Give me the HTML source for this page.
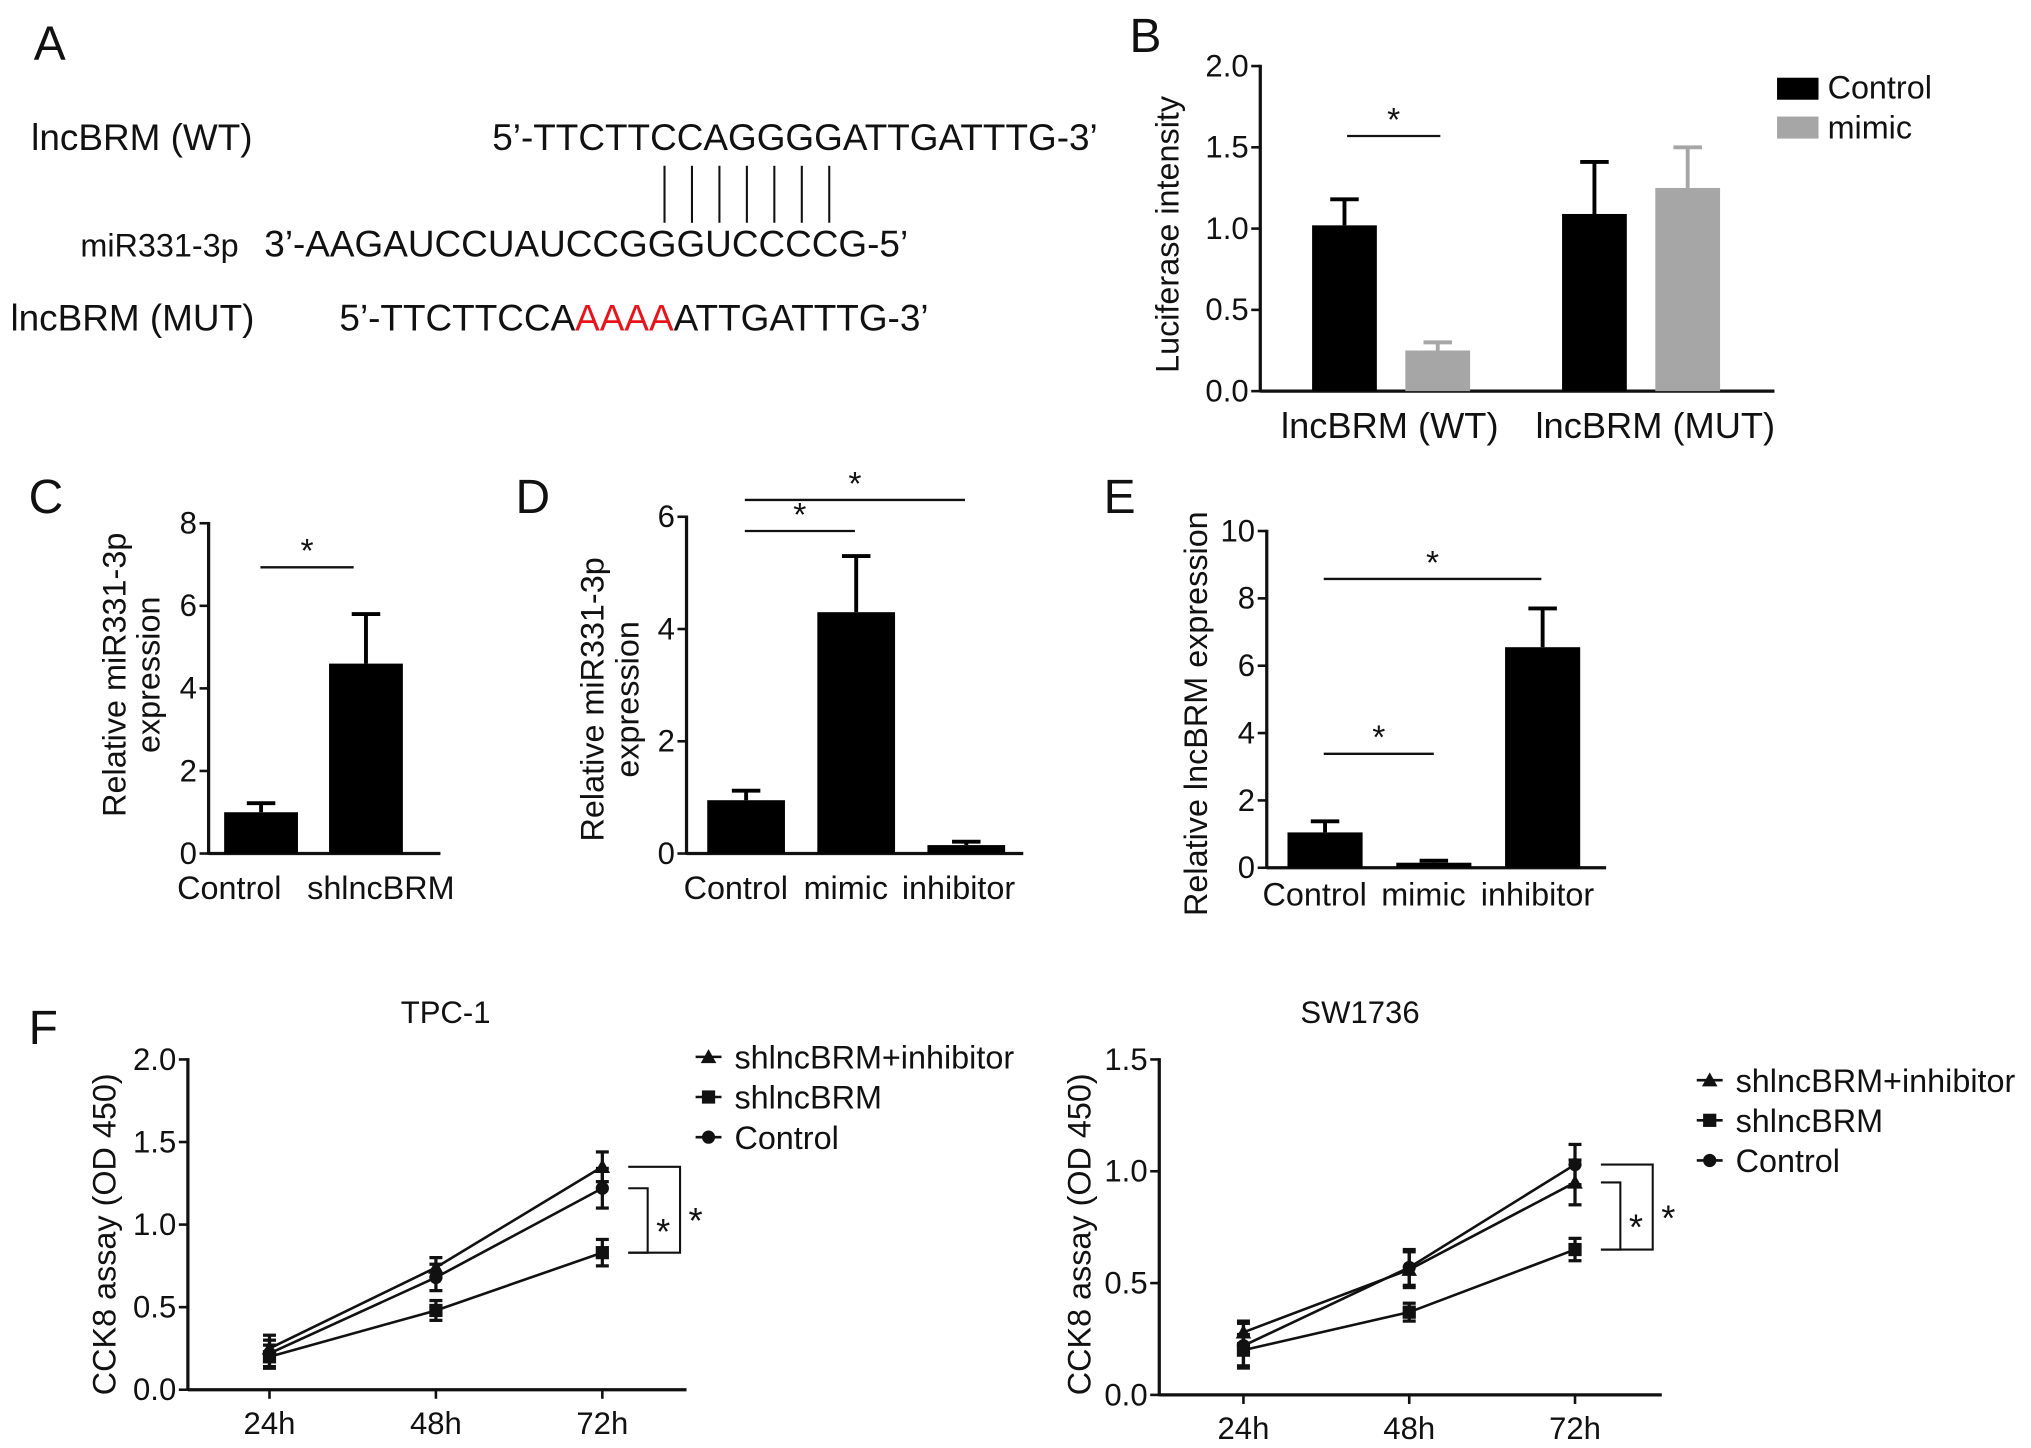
<!DOCTYPE html>
<html><head><meta charset="utf-8"><style>html,body{margin:0;padding:0;background:#fff}svg{display:block}text{font-family:"Liberation Sans",Arial,sans-serif;fill:#111}</style></head>
<body>
<svg id="fig" xmlns="http://www.w3.org/2000/svg" width="2031" height="1448" viewBox="0 0 1568 1118">
<g>
<text x="26" y="46" font-size="37">A</text>
<text x="24" y="116" font-size="28.5">lncBRM (WT)</text>
<text x="380" y="116" font-size="28.5">5’-TTCTTCCAGGGGATTGATTTG-3’</text>
<text x="62" y="198" font-size="25">miR331-3p</text>
<text x="204" y="198" font-size="28.5">3’-AAGAUCCUAUCCGGGUCCCCG-5’</text>
<text x="8" y="255" font-size="28.5">lncBRM (MUT)</text>
<text x="262" y="255" font-size="28.5">5’-TTCTTCCA<tspan fill="#e8141b" style="fill:#e8141b">AAAA</tspan>ATTGATTTG-3’</text>
<g id="pairs" stroke="#111" stroke-width="1.6"></g>
</g>
<g id="charts"></g>
</svg>
<script>
// Panel B data
const bCats=["lncBRM (WT)","lncBRM (MUT)"];
const bControl=[1.02,1.09], bControlErr=[0.16,0.32];
const bMimic=[0.25,1.25], bMimicErr=[0.05,0.25];
const bTicks=["0.0","0.5","1.0","1.5","2.0"];
// Panel C
const cCats=["Control","shlncBRM"], cVals=[1.0,4.6], cErr=[0.22,1.2], cTicks=[0,2,4,6,8];
// Panel D
const dCats=["Control","mimic","inhibitor"], dVals=[0.95,4.3,0.15], dErr=[0.17,1.0,0.06], dTicks=[0,2,4,6];
// Panel E
const eCats=["Control","mimic","inhibitor"], eVals=[1.05,0.15,6.55], eErr=[0.33,0.06,1.15], eTicks=[0,2,4,6,8,10];
// Panel F
const fTimes=["24h","48h","72h"];
const f1Tri=[0.25,0.74,1.35], f1Sq=[0.2,0.48,0.83], f1Ci=[0.22,0.68,1.22];
const f1TriE=[0.08,0.06,0.09], f1SqE=[0.07,0.06,0.08], f1CiE=[0.08,0.08,0.12];
const f2Tri=[0.28,0.56,0.95], f2Sq=[0.2,0.37,0.65], f2Ci=[0.22,0.57,1.03];
const f2TriE=[0.05,0.08,0.1], f2SqE=[0.07,0.04,0.05], f2CiE=[0.1,0.08,0.09];
const f1Ticks=["0.0","0.5","1.0","1.5","2.0"], f2Ticks=["0.0","0.5","1.0","1.5"];

const NS="http://www.w3.org/2000/svg";
const root=document.getElementById('charts');
function mk(tag,attrs,parent,txt){const e=document.createElementNS(NS,tag);for(const k in attrs)e.setAttribute(k,attrs[k]);if(txt!==undefined)e.textContent=txt;(parent||root).appendChild(e);return e;}
const pg=document.getElementById('pairs');
for(let i=0;i<7;i++){const l=mk('line',{x1:513+i*21.2,x2:513+i*21.2,y1:128,y2:172},pg);

}

function axisY(g,x,y0,y1,vmax,ticks,fs){
  const sc=v=>y0-(v/vmax)*(y0-y1);
  const ax=mk('line',{x1:x,x2:x,y1:y0+1,y2:y1-1,stroke:'#111','stroke-width':2.5},g);
  
  
  ticks.forEach(t=>{const v=parseFloat(t);const y=sc(v);
    mk('line',{x1:x-7,x2:x,y1:y,y2:y,stroke:'#111','stroke-width':2},g);
    const tx=mk('text',{x:x-9,y:y+8,'font-size':fs||24,'text-anchor':'end'},g,String(t));
    
    });
  return sc;
}
function xAxis(g,x0,x1,y){const a=mk('line',{x1:x0,x2:x1,y1:y,y2:y,stroke:'#111','stroke-width':2.5},g);
  
  }
function ytitle(g,x,y,lines,fs,gap){lines.forEach((s,i)=>{const t=mk('text',{x:0,y:0,'font-size':fs||25,'text-anchor':'middle',transform:`translate(${x+i*(gap||27)},${y}) rotate(-90)`},g,s);
  
  });}
function bar(g,x,w,sc,v,e,fill,name){
  const r=mk('rect',{x:x,y:sc(v),width:w,height:sc(0)-sc(v),fill:fill},g);
  
  
  const cx=x+w/2, ty=sc(v+e);
  mk('line',{x1:cx,x2:cx,y1:sc(v),y2:ty,stroke:fill,'stroke-width':3},g);
  mk('line',{x1:cx-11,x2:cx+11,y1:ty,y2:ty,stroke:fill,'stroke-width':3},g);
}
function sig(g,x1,x2,y){mk('line',{x1:x1,x2:x2,y1:y,y2:y,stroke:'#111','stroke-width':1.8},g);
  const s=mk('text',{x:(x1+x2)/2,y:y-4,'font-size':26,'text-anchor':'middle'},g,'*');
  
  }
function label(g,x,y,s,fs,name,anchor){const t=mk('text',{x:x,y:y,'font-size':fs,'text-anchor':anchor||'middle'},g,s);
  
  return t;}

// Panel B
{const g=mk('g',{});


label(g,872,40,'B',37,'panel-label-b','start');
const sc=axisY(g,973,302,51,2.0,bTicks,24);
xAxis(g,973,1370,302);
ytitle(g,910,181,['Luciferase intensity'],25);
const cx=[1073,1266];
bCats.forEach((c,i)=>{bar(g,cx[i]-60,50,sc,bControl[i],bControlErr[i],'#000','bar-control');
 bar(g,cx[i]+12,50,sc,bMimic[i],bMimicErr[i],'#a6a6a6','bar-mimic');
 label(g,cx[i]+(i?12:0),338,c,28,'x-tick-label');});
sig(g,1040,1112,105);
const l1=mk('rect',{x:1372,y:60,width:32,height:17,fill:'#000'},g);


label(g,1411,76,'Control',25,'legend-entry-control','start');
const l2=mk('rect',{x:1372,y:90,width:32,height:17,fill:'#a6a6a6'},g);


label(g,1411,107,'mimic',25,'legend-entry-mimic','start');}

// Panel C
{const g=mk('g',{});


label(g,22,396,'C',37,'panel-label-c','start');
const sc=axisY(g,161,659,404,8,cTicks,24);
xAxis(g,161,340,659);
ytitle(g,97,521,['Relative  miR331-3p','expression'],25,26);
const cx=[201,282];
cCats.forEach((c,i)=>{bar(g,cx[i]-28,57,sc,cVals[i],cErr[i],'#000','bar-'+c.toLowerCase());
 label(g,cx[i]+(i?12:-24),694,c,25,'x-tick-label');});
sig(g,201,273,438);}

// Panel D
{const g=mk('g',{});


label(g,398,396,'D',37,'panel-label-d','start');
const sc=axisY(g,530,659,399,6,dTicks,24);
xAxis(g,530,790,659);
ytitle(g,466,540,['Relative  miR331-3p','expression'],25,27);
const cx=[576,661,746];
dCats.forEach((c,i)=>{bar(g,cx[i]-30,60,sc,dVals[i],dErr[i],'#000','bar-'+c);
 label(g,cx[i]-8+(i==2?2:0),694,c,25,'x-tick-label');});
sig(g,575,660,410);sig(g,575,745,386);}

// Panel E
{const g=mk('g',{});


label(g,852,396,'E',37,'panel-label-e','start');
const sc=axisY(g,978,670,410,10,eTicks,24);
xAxis(g,978,1240,670);
ytitle(g,932,551,['Relative  lncBRM expression'],25);
const cx=[1023,1107,1191];
eCats.forEach((c,i)=>{bar(g,cx[i]-29,58,sc,eVals[i],eErr[i],'#000','bar-'+c);
 label(g,cx[i]-8+(i==2?4:0),699,c,25,'x-tick-label');});
sig(g,1022,1107,582);sig(g,1022,1190,447);}

// Panel F
function marker(g,type,x,y,r){let m;
 if(type==='tri')m=mk('polygon',{points:`${x},${y-r} ${x-r},${y+r*0.8} ${x+r},${y+r*0.8}`,fill:'#111'},g);
 else if(type==='sq')m=mk('rect',{x:x-r*0.85,y:y-r*0.85,width:r*1.7,height:r*1.7,fill:'#111'},g);
 else m=mk('circle',{cx:x,cy:y,r:r*0.85,fill:'#111'},g);
 
 }
function lineChart(opt){
 const g=mk('g',{});
 
 
 const sc=axisY(g,opt.ax,opt.y0,opt.y1,opt.vmax,opt.ticks,24);
 xAxis(g,opt.ax,opt.axEnd,opt.y0);
 ytitle(g,opt.tx,953,['CCK8 assay (OD 450)'],25);
 label(g,opt.titleX,790,opt.title,24,'chart-title');
 const xs=i=>opt.x0+i*opt.dx;
 fTimes.forEach((t,i)=>{mk('line',{x1:xs(i),x2:xs(i),y1:opt.y0,y2:opt.y0+7,stroke:'#111','stroke-width':2},g);
  label(g,xs(i),opt.y0+34,t,24,'x-tick-label');});
 opt.series.forEach(s=>{
  const p=mk('polyline',{points:s.v.map((v,i)=>xs(i)+','+sc(v)).join(' '),fill:'none',stroke:'#111','stroke-width':2},g);
  
  
  s.v.forEach((v,i)=>{const x=xs(i);
   mk('line',{x1:x,x2:x,y1:sc(v-s.e[i]),y2:sc(v+s.e[i]),stroke:'#111','stroke-width':2.5},g);
   mk('line',{x1:x-5,x2:x+5,y1:sc(v-s.e[i]),y2:sc(v-s.e[i]),stroke:'#111','stroke-width':2.5},g);
   mk('line',{x1:x-5,x2:x+5,y1:sc(v+s.e[i]),y2:sc(v+s.e[i]),stroke:'#111','stroke-width':2.5},g);
   marker(g,s.t,x,sc(v),6);});
 });
 const x72=xs(2), tri=opt.series[0].v[2], sq=opt.series[1].v[2], ci=opt.series[2].v[2];
 const hi=Math.max(tri,ci), lo=Math.min(tri,ci);
 const yb=sc(sq);
 mk('path',{d:`M${x72+20},${sc(lo)} H${x72+35} V${yb} H${x72+20}`,fill:'none',stroke:'#111','stroke-width':1.6},g);
 mk('path',{d:`M${x72+20},${sc(hi)} H${x72+60} V${yb} H${x72+20}`,fill:'none',stroke:'#111','stroke-width':1.6},g);
 label(g,x72+47,(sc(lo)+yb)/2+18,'*',28,'significance-star');
 label(g,x72+72,(sc(hi)+yb)/2+18,'*',28,'significance-star');
 const names=['shlncBRM+inhibitor','shlncBRM','Control'];
 opt.series.forEach((s,i)=>{const y=opt.ly+i*31;
  mk('line',{x1:opt.lx,x2:opt.lx+20,y1:y,y2:y,stroke:'#111','stroke-width':2},g);
  marker(g,s.t,opt.lx+10,y,6);
  label(g,opt.lx+30,y+9,names[i],25,'legend-entry','start');});
}
label(root,22,806,'F',37,'panel-label-f','start');
lineChart({name:'chart-tpc1',title:'TPC-1',titleX:344,tx:89,ax:145,axEnd:530,y0:1073,y1:818,vmax:2,ticks:f1Ticks,x0:208,dx:128.5,lx:537,ly:816,
 series:[{t:'tri',v:f1Tri,e:f1TriE},{t:'sq',v:f1Sq,e:f1SqE},{t:'ci',v:f1Ci,e:f1CiE}]});
lineChart({name:'chart-sw1736',title:'SW1736',titleX:1050,tx:842,ax:895,axEnd:1283,y0:1077,y1:818,vmax:1.5,ticks:f2Ticks,x0:960,dx:128,lx:1310,ly:834,
 series:[{t:'tri',v:f2Tri,e:f2TriE},{t:'sq',v:f2Sq,e:f2SqE},{t:'ci',v:f2Ci,e:f2CiE}]});
</script>
</body></html>
